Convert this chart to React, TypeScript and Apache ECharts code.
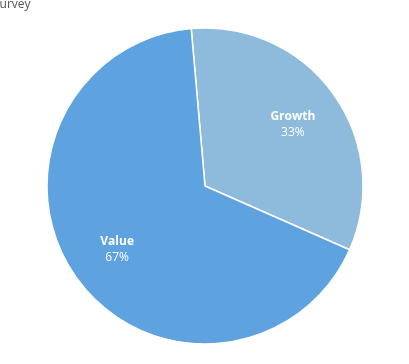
import React, { useEffect, useRef } from "react";
import * as echarts from "echarts";

const titleText = "Survey";
const categories = ["Growth", "Value"];
const values = [33, 67];
const colors = ["#8ebadb", "#5ea3e0"];

export default function App() {
  const ref = useRef<HTMLDivElement>(null);
  useEffect(() => {
    const chart = echarts.init(ref.current!, null, { renderer: "svg" });
    const data = categories.map((c, i) => ({ name: c, value: values[i], itemStyle: { color: colors[i] } }));
    const center = [205, 186];
    const R = 158;
    chart.setOption({
      animation: false,
      graphic: [
        {
          type: "text",
          left: -7,
          top: -3,
          style: { text: titleText, fill: "#555", font: "12px 'Open Sans', sans-serif" },
        },
      ],
      series: [
        {
          type: "pie",
          center,
          radius: [0, R],
          startAngle: 95,
          clockwise: true,
          silent: true,
          label: { show: false },
          labelLine: { show: false },
          itemStyle: { borderColor: "#ffffff", borderWidth: 1.5 },
          data,
        },
        {
          type: "pie",
          center,
          radius: [R * 0.33, R],
          startAngle: 95,
          clockwise: true,
          silent: true,
          itemStyle: { color: "transparent", borderWidth: 0 },
          label: {
            show: true,
            position: "inside",
            formatter: (p: any) => `{n|${p.name}}\n{v|${Math.round(p.percent)}%}`,
            rich: {
              n: { color: "#fff", fontWeight: "bold", fontSize: 12, fontFamily: "'Open Sans', sans-serif", lineHeight: 16 },
              v: { color: "#fff", fontSize: 12, fontFamily: "'Open Sans', sans-serif", lineHeight: 16 },
            },
          },
          labelLine: { show: false },
          data: categories.map((c, i) => ({ name: c, value: values[i], itemStyle: { color: "transparent" } })),
        },
      ],
    });
    return () => chart.dispose();
  }, []);
  return <div ref={ref} style={{ position: "fixed", left: 0, top: 0, width: 409, height: 364 }} />;
}
